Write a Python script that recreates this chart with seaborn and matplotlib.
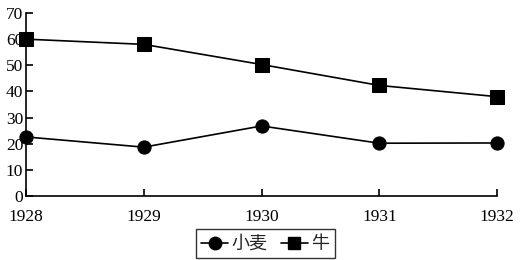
import matplotlib
matplotlib.use("Agg")
import matplotlib.pyplot as plt
import seaborn as sns
import pandas as pd

years = [1928, 1929, 1930, 1931, 1932]
wheat = [22.6, 18.7, 26.8, 20.2, 20.3]
cattle = [60.0, 58.0, 50.3, 42.3, 38.0]
series_names = ["小麦", "牛"]
yticks = [0, 10, 20, 30, 40, 50, 60, 70]

sns.set_style("ticks")
plt.rcParams['font.family'] = ['Liberation Serif', 'Noto Sans CJK SC', 'DejaVu Sans']

df = pd.DataFrame({
    "year": years * 2,
    "value": wheat + cattle,
    "series": [series_names[0]] * len(years) + [series_names[1]] * len(years),
})

fig = plt.figure(figsize=(5.2, 2.6), dpi=100)
ax = fig.add_axes([0.05, 0.246, 0.906, 0.704])

sns.lineplot(data=df, x="year", y="value", hue="series", style="series",
             palette=["black", "black"], markers={"小麦": "o", "牛": "s"},
             dashes=False, markersize=9.5, linewidth=1.2, ax=ax,
             markeredgecolor="black", legend=False)

ax.set_xlim(1928, 1932)
ax.set_ylim(0, 70)
ax.set_xticks(years)
ax.set_xticklabels([str(y) for y in years])
ax.set_yticks(yticks)
ax.set_xlabel("")
ax.set_ylabel("")
for s in ["top", "right"]:
    ax.spines[s].set_visible(False)
for s in ["left", "bottom"]:
    ax.spines[s].set_color("black")
    ax.spines[s].set_linewidth(1.2)
    ax.spines[s].set_clip_on(False)
ax.tick_params(axis="both", direction="in", length=5, width=1.2, colors="black",
               labelsize=12.5)
ax.tick_params(axis="x", pad=9)
ax.tick_params(axis="y", pad=2)
for lbl in ax.get_xticklabels() + ax.get_yticklabels():
    lbl.set_fontfamily(['Liberation Serif'])
for line in ax.lines:
    line.set_clip_on(False)

from matplotlib.lines import Line2D
handles = [Line2D([], [], color="black", marker="o", markersize=9, linewidth=1.2),
           Line2D([], [], color="black", marker="s", markersize=9, linewidth=1.2)]
leg = fig.legend(handles, series_names, loc="center", bbox_to_anchor=(0.51, 0.062),
                 ncol=2, frameon=True, fancybox=False, edgecolor="black",
                 handlelength=1.5, handletextpad=0.2, columnspacing=0.7,
                 borderpad=0.3, prop={"family": ["Noto Sans CJK SC"], "size": 13})
leg.get_frame().set_linewidth(1.0)

fig.savefig("out.png", dpi=100)
